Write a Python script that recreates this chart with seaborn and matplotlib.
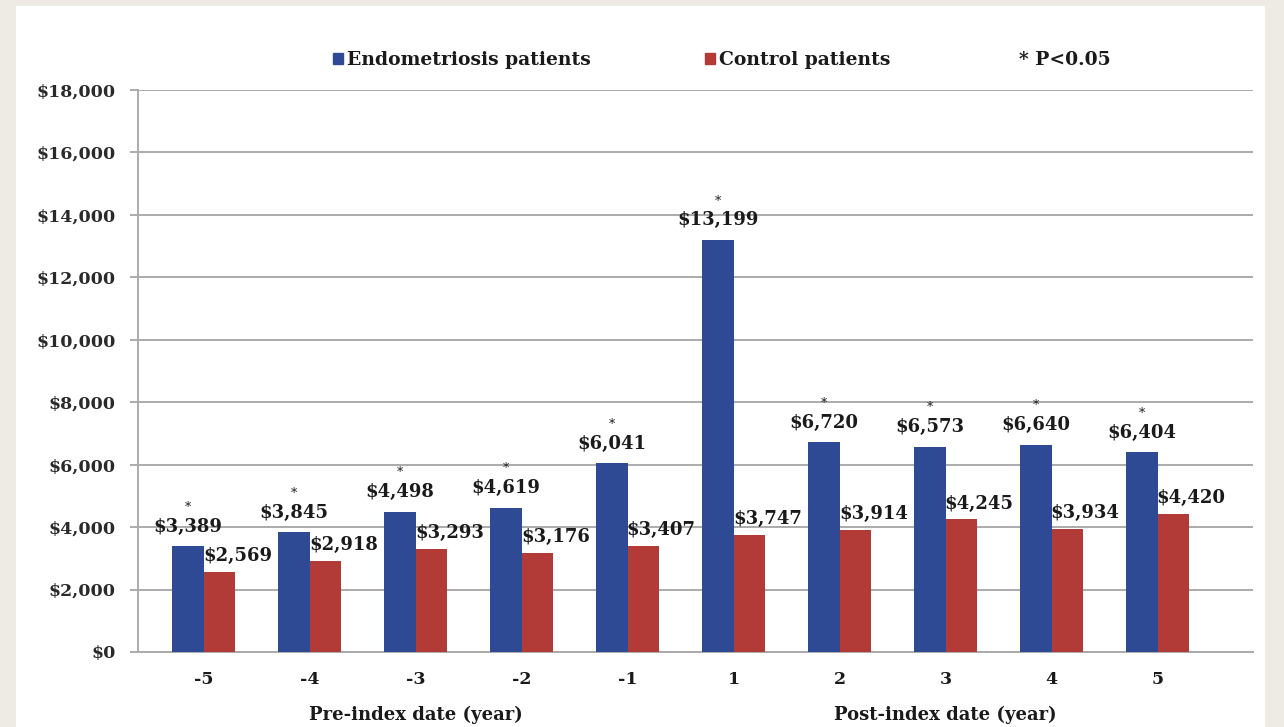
import matplotlib
matplotlib.use("Agg")
import matplotlib.pyplot as plt
import seaborn as sns
import pandas as pd
from matplotlib.patches import Rectangle
from matplotlib.transforms import blended_transform_factory

# ---- data ----
years = ["-5", "-4", "-3", "-2", "-1", "1", "2", "3", "4", "5"]
endo = [3389, 3845, 4498, 4619, 6041, 13199, 6720, 6573, 6640, 6404]
control = [2569, 2918, 3293, 3176, 3407, 3747, 3914, 4245, 3934, 4420]
groups = ["Endometriosis patients", "Control patients"]
significant = [True] * 10
yticks = list(range(0, 18001, 2000))
period_labels = ["Pre-index date (year)", "Post-index date (year)"]
period_centers = ["-3", "3"]

BLUE = "#2F4A94"
RED = "#B23B37"
GRID = "#ABABAB"
TXT = "#1A1A1A"

sns.set_theme(style="white")
plt.rcParams['font.family'] = ['DejaVu Serif', 'DejaVu Sans']

df = pd.DataFrame({
    "year": years * 2,
    "cost": endo + control,
    "group": [groups[0]] * len(years) + [groups[1]] * len(years),
})

W, H = 1284, 727
fig = plt.figure(figsize=(W / 100, H / 100), dpi=100)
fig.patch.set_facecolor("#EEEBE4")
fig.patches.append(Rectangle((16 / W, 0), (1265 - 16) / W, (H - 6) / H,
                             transform=fig.transFigure, facecolor="white",
                             edgecolor="none", zorder=-1))

ax = fig.add_axes([138 / W, (H - 652) / H, (1253 - 138) / W, (652 - 90) / H])
ax.set_facecolor("white")

sns.barplot(data=df, x="year", y="cost", hue="group", order=years,
            hue_order=groups, palette=[BLUE, RED], width=0.59,
            saturation=1, ax=ax, legend=False, zorder=3, linewidth=0)

ax.set_ylim(0, 18000)
ax.set_xlim(-0.62, 9.90)
ax.set_yticks(yticks)
ax.set_yticklabels([f"${v:,}" for v in yticks])
ax.yaxis.grid(True, color=GRID, lw=1.4)
ax.set_axisbelow(True)
for s in ["top", "right"]:
    ax.spines[s].set_visible(False)
for s in ["left", "bottom"]:
    ax.spines[s].set_color(GRID)
    ax.spines[s].set_linewidth(1.4)

ax.tick_params(axis="x", length=0, pad=14, labelsize=12.5, labelcolor=TXT)
ax.tick_params(axis="y", left=True, length=6, width=1.4, color=GRID, pad=10,
               labelsize=12.5, labelcolor="#2A2A2A")
for lbl in ax.get_xticklabels() + ax.get_yticklabels():
    lbl.set_fontweight("bold")
ax.set_xlabel("")
ax.set_ylabel("")

# value labels and significance marks
for ci, cont in enumerate(ax.containers):
    vals = endo if ci == 0 else control
    for i, bar in enumerate(cont):
        cx = bar.get_x() + bar.get_width() / 2
        h = bar.get_height()
        dx, dy = (0, 14) if ci == 0 else (13, 11.5)
        ax.annotate(f"${vals[i]:,}", (cx, h), xytext=(dx, dy),
                    textcoords="offset points", ha="center", va="center",
                    fontsize=13, fontweight="bold", color=TXT, zorder=5)
        if ci == 0 and significant[i]:
            ax.annotate("*", (cx, h), xytext=(0, 28),
                        textcoords="offset points", ha="center", va="center",
                        fontsize=9, color=TXT, zorder=5)

# period labels
trans = blended_transform_factory(ax.transData, fig.transFigure)
for lab, cen in zip(period_labels, period_centers):
    ax.text(years.index(cen), (H - 715) / H, lab, transform=trans,
            ha="center", va="center", fontsize=13, fontweight="bold",
            color=TXT)

# legend
handles = [Rectangle((0, 0), 1, 1, color=BLUE),
           Rectangle((0, 0), 1, 1, color=RED),
           Rectangle((0, 0), 1, 1, alpha=0)]
labels = groups + ["* P<0.05"]
fig.legend(handles, labels, ncol=3, loc="center",
           bbox_to_anchor=(722 / W, (H - 60) / H), frameon=False,
           prop={"size": 13.5, "weight": "bold"},
           handlelength=0.5, handleheight=0.5,
           handletextpad=0.25, columnspacing=6.1, labelcolor=TXT)

fig.savefig("out.png", dpi=100)
